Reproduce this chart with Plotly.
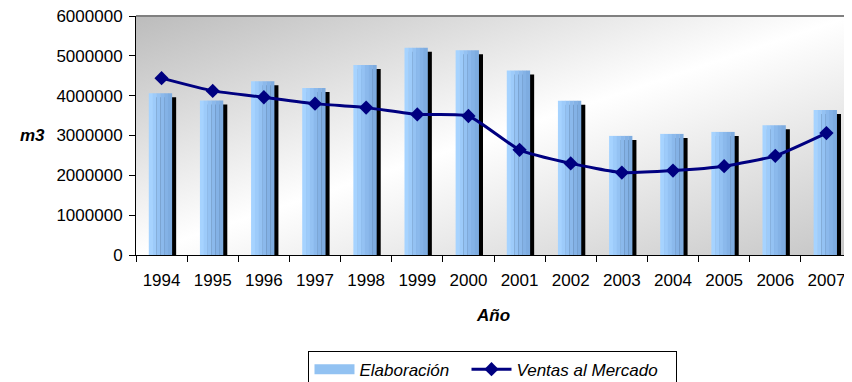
import base64
import plotly.graph_objects as go

# Data
years = ['1994', '1995', '1996', '1997', '1998', '1999', '2000',
         '2001', '2002', '2003', '2004', '2005', '2006', '2007']
elaboracion = [4060000, 3880000, 4360000, 4190000, 4770000, 5200000, 5140000,
               4630000, 3870000, 2990000, 3040000, 3090000, 3260000, 3640000]
ventas = [4440000, 4120000, 3960000, 3800000, 3700000, 3530000, 3490000,
          2640000, 2300000, 2070000, 2120000, 2230000, 2490000, 3060000]

FONT = 'Liberation Sans, Arial, sans-serif'
BAR_OFFSET = -0.25
BAR_WIDTH = 0.45

fig = go.Figure()

# Black drop shadow behind each bar (shifted right and down a little)
fig.add_trace(go.Bar(
    x=years, y=elaboracion, base=-100000,
    offset=BAR_OFFSET + 0.085, width=BAR_WIDTH,
    marker=dict(color='black', line=dict(width=0)),
    showlegend=False, hoverinfo='skip'
))

# Blue bars, drawn as thin vertical slices to fake the left-to-right gradient
slice_colors = ['#a6d3ff', '#9dcbfa', '#94c2f3', '#8bb9ec', '#84b2e6', '#7eace0']
n = len(slice_colors)
for i, c in enumerate(slice_colors):
    fig.add_trace(go.Bar(
        x=years, y=elaboracion,
        offset=BAR_OFFSET + i * BAR_WIDTH / n, width=BAR_WIDTH / n + 0.006,
        marker=dict(color=c, line=dict(width=0)),
        name='Elaboración',
        showlegend=False,
        legendgroup='elab',
    ))

# legend-only entry so the swatch is a wide rectangle like the original
fig.add_trace(go.Scatter(
    x=[None], y=[None], mode='lines',
    line=dict(color='#92c2f2', width=12),
    name='Elaboración', legendgroup='elab', legendwidth=102, hoverinfo='skip'
))

fig.add_trace(go.Scatter(
    x=years, y=ventas,
    mode='lines+markers',
    name='Ventas al Mercado',
    legendwidth=155,
    line=dict(color='#000080', width=3, shape='spline', smoothing=0.5),
    marker=dict(symbol='diamond', size=11, color='#000080'),
))

# Diagonal grey-white-grey background of the plot area
svg = ('<svg xmlns="http://www.w3.org/2000/svg" width="100" height="100" '
       'viewBox="0 0 100 100" preserveAspectRatio="none"><defs>'
       '<linearGradient id="g" x1="0" y1="0" x2="1" y2="1">'
       '<stop offset="0" stop-color="#bcbcbc"/>'
       '<stop offset="0.5" stop-color="#ffffff"/>'
       '<stop offset="1" stop-color="#c6c6c6"/>'
       '</linearGradient></defs>'
       '<rect width="100" height="100" fill="url(#g)"/></svg>')
bg_uri = 'data:image/svg+xml;base64,' + base64.b64encode(svg.encode()).decode()

# the page body adds an 8px margin, so the figure is laid out 8px up/left
fig.update_layout(
    width=852,
    height=382,
    margin=dict(l=128, r=8, t=8, b=135, autoexpand=False),
    paper_bgcolor='white',
    plot_bgcolor='white',
    barmode='overlay',
    font=dict(family=FONT, size=17, color='black'),
    images=[dict(source=bg_uri, xref='paper', yref='paper', x=0, y=1,
                 sizex=1, sizey=1, sizing='stretch', layer='below')],
    xaxis=dict(
        type='category',
        range=[-0.5, len(years) - 0.5],
        automargin=False,
        showgrid=False, zeroline=False,
        showline=True, linecolor='black', linewidth=1,
        ticks='outside', ticklen=6, tickcolor='black',
        tickson='boundaries',
        ticklabelstandoff=10,
        tickfont=dict(size=17),
    ),
    yaxis=dict(
        range=[0, 6000000],
        dtick=1000000,
        tickformat='d',
        automargin=False,
        showgrid=False, zeroline=False,
        showline=True, linecolor='black', linewidth=1,
        ticks='outside', ticklen=6, tickcolor='black',
        ticklabelstandoff=3,
        ticklabeloverflow='allow',
        tickfont=dict(size=17),
    ),
    shapes=[dict(type='line', xref='paper', yref='paper', x0=0, x1=1, y0=1, y1=1,
                 line=dict(color='#808080', width=2))],
    annotations=[
        dict(text='<b><i>m3</i></b>', xref='paper', yref='paper',
             x=-0.145, y=0.502, xanchor='center', yanchor='middle',
             showarrow=False, font=dict(size=17)),
        dict(text='<b><i>Año</i></b>', xref='paper', yref='paper',
             x=0.4986, y=-0.255, xanchor='center', yanchor='middle',
             showarrow=False, font=dict(size=17)),
    ],
    showlegend=True,
    legend=dict(
        orientation='h',
        x=0.4986, xanchor='center',
        y=-0.40, yanchor='top',
        itemwidth=40,
        bgcolor='white', bordercolor='black', borderwidth=1,
        font=dict(size=17, style='italic'),
        traceorder='normal',
    ),
)

fig.write_html('out.html')
